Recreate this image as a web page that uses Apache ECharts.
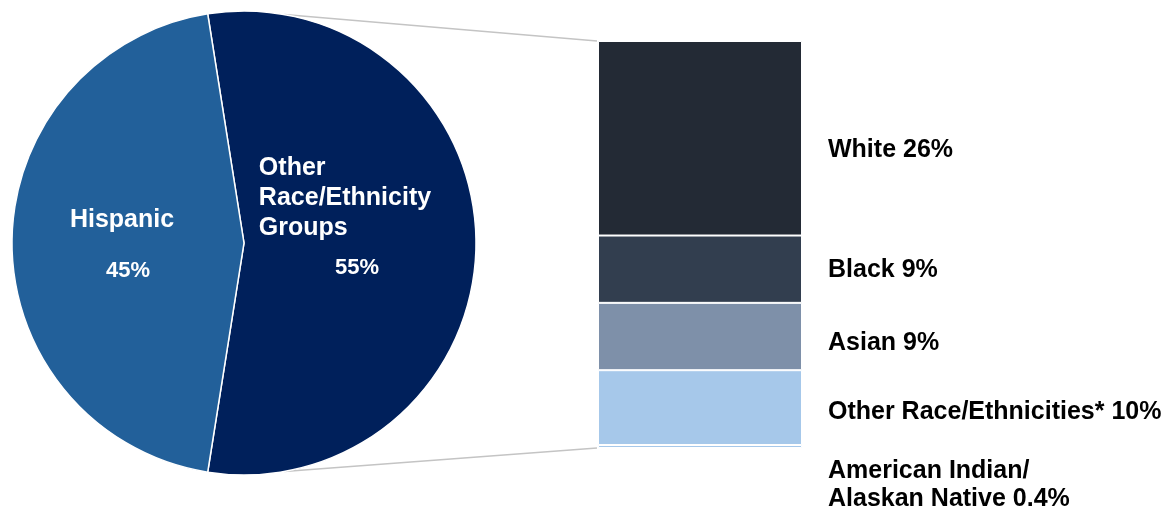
<!DOCTYPE html>
<html>
<head>
<meta charset="utf-8">
<script src="https://cdn.jsdelivr.net/npm/echarts@6/dist/echarts.min.js"></script>
<style>
  html, body { margin: 0; padding: 0; background: #fff; }
  #chart { width: 1164px; height: 508px; }
</style>
</head>
<body>
<div id="chart"></div>
<script>
// pie: share of total
const pieNames = ['Other Race/Ethnicity Groups', 'Hispanic']
const pieValues = [55, 45]
const pieColors = ['#00205b', '#22609a']

// bar: breakdown of the "other" slice
const barNames = ['White', 'Black', 'Asian', 'Other Race/Ethnicities*', 'American Indian/\nAlaskan Native']
const barValues = [26, 9, 9, 10, 0.4]
const barColors = ['#232a35', '#323e4f', '#7e90a9', '#a6c8ea', '#a6c8ea']

const font = '"Liberation Sans", Arial, sans-serif'
const pieCenter = [244, 243]
const pieRadius = 232
const barTotal = barValues.reduce((a, b) => a + b, 0)

const chart = echarts.init(document.getElementById('chart'))

const pieData = pieNames.map((name, i) => {
    const item = { name, value: pieValues[i], itemStyle: { color: pieColors[i] } }
    if (i === 0) {
        item.label = {
            formatter: '{t|Other}\n{t|Race/Ethnicity}\n{t|Groups}\n{p|' + pieValues[i] + '%}',
            padding: [0, 36, 40, 0],
            rich: {
                t: { fontSize: 25, fontWeight: 'bold', color: '#fff', fontFamily: font, lineHeight: 30, align: 'left' },
                p: { fontSize: 22, fontWeight: 'bold', color: '#fff', fontFamily: font, lineHeight: 50, align: 'center', padding: [0, 0, 0, 24] }
            }
        }
    } else {
        item.label = {
            formatter: '{t|' + name + '}\n{p|' + pieValues[i] + '%}',
            padding: [5, 0, 0, 6],
            rich: {
                t: { fontSize: 25, fontWeight: 'bold', color: '#fff', fontFamily: font, lineHeight: 51, align: 'center', padding: [0, 12, 0, 0] },
                p: { fontSize: 22, fontWeight: 'bold', color: '#fff', fontFamily: font, lineHeight: 51, align: 'center' }
            }
        }
    }
    return item
})

const labelOffsets = [[0, 12], [0, 1], [0, 7], [0, 5], [0, 39]]

const barSeries = barNames.map((name, i) => ({
    type: 'bar',
    name: name,
    stack: 'all',
    barWidth: '100%',
    data: [barValues[i]],
    itemStyle: { color: barColors[i], borderColor: '#fff', borderWidth: 1 },
    label: {
        show: true,
        position: 'right',
        distance: 26,
        offset: labelOffsets[i],
        align: 'left',
        color: '#000',
        fontSize: 25,
        fontWeight: 'bold',
        fontFamily: font,
        lineHeight: 28,
        formatter: name + ' ' + barValues[i] + '%'
    }
}))

chart.setOption({
    animation: false,
    grid: { left: 598, top: 41, width: 204, height: 407 },
    xAxis: { type: 'category', data: ['breakdown'], show: false },
    yAxis: { type: 'value', min: 0, max: barTotal, inverse: true, show: false },
    series: [
        {
            type: 'pie',
            center: pieCenter,
            radius: pieRadius,
            startAngle: 99,
            clockwise: true,
            label: { show: true, position: 'inside' },
            labelLine: { show: false },
            itemStyle: { borderColor: '#fff', borderWidth: 1.5 },
            emphasis: { disabled: true },
            data: pieData
        },
        ...barSeries
    ]
})

// connector lines from the pie edge to the bar corners
const barTop = chart.convertToPixel({ yAxisIndex: 0 }, 0)
const barBottom = chart.convertToPixel({ yAxisIndex: 0 }, barTotal)
const a = 10 * Math.PI / 180
const px = pieCenter[0] + pieRadius * Math.sin(a)
chart.setOption({
    graphic: [
        {
            type: 'line', silent: true,
            shape: { x1: px, y1: pieCenter[1] - pieRadius * Math.cos(a), x2: 597, y2: barTop },
            style: { stroke: '#c4c4c4', lineWidth: 1.5 }
        },
        {
            type: 'line', silent: true,
            shape: { x1: px, y1: pieCenter[1] + pieRadius * Math.cos(a), x2: 597, y2: barBottom },
            style: { stroke: '#c4c4c4', lineWidth: 1.5 }
        }
    ]
})
</script>
</body>
</html>
